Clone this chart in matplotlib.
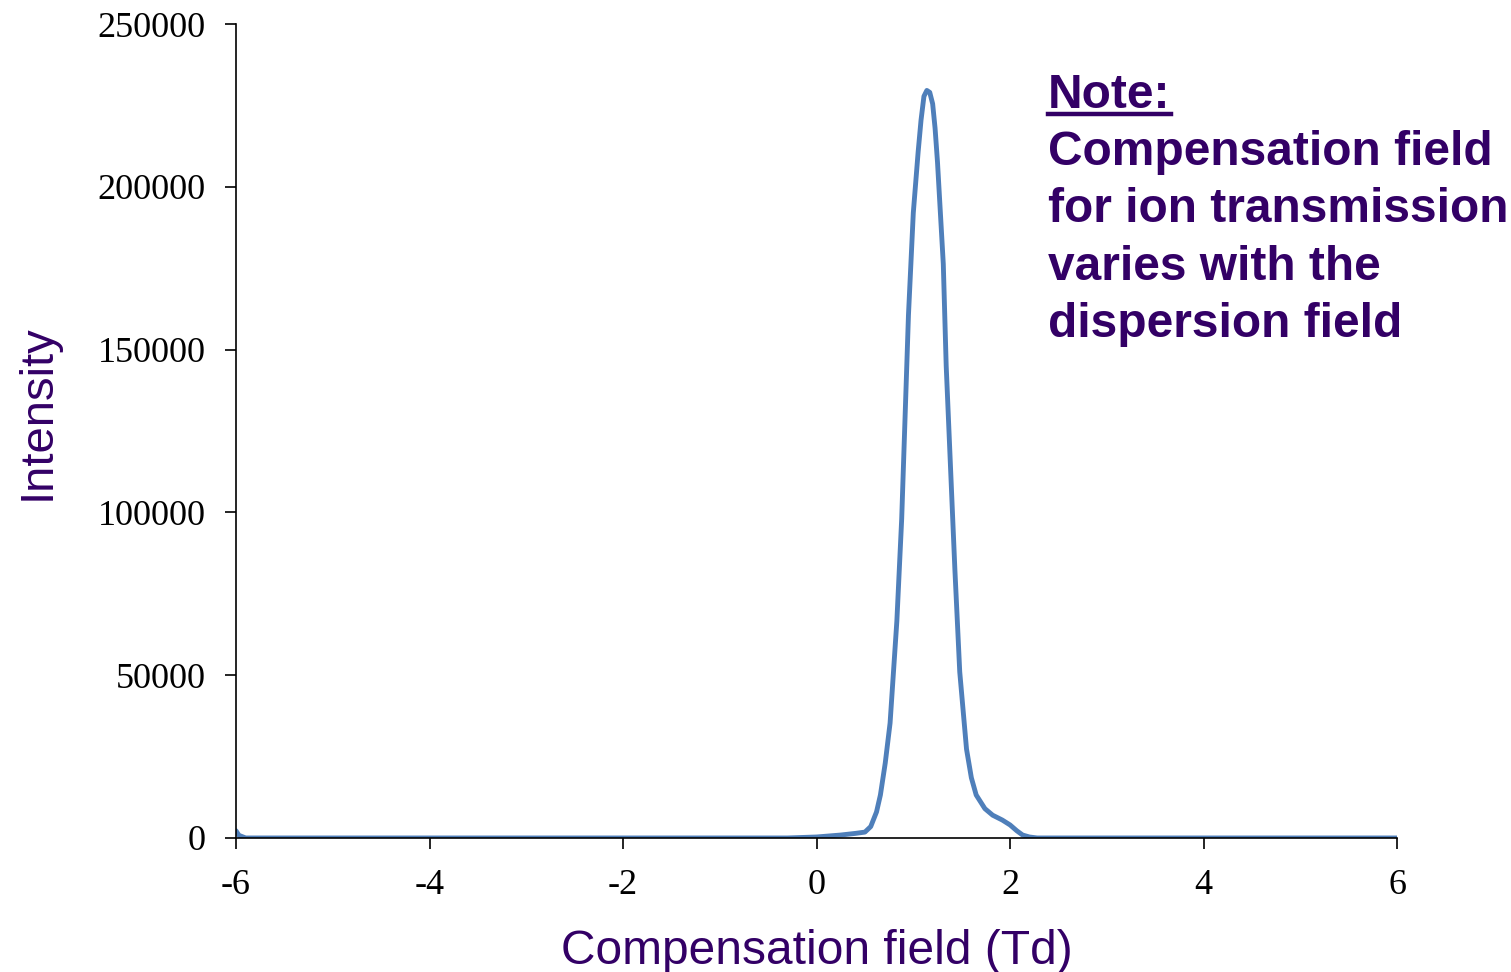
import matplotlib
matplotlib.use("Agg")
import matplotlib.pyplot as plt
from matplotlib.lines import Line2D

# curve
campo = [-6.0, -5.97, -5.9, -5.0, -3.0, -1.0, -0.3, 0.0, 0.25, 0.4, 0.5, 0.56, 0.62,
         0.66, 0.71, 0.76, 0.83, 0.88, 0.915, 0.95, 1.0, 1.05, 1.08, 1.11, 1.14,
         1.17, 1.20, 1.225, 1.25, 1.31, 1.34, 1.385, 1.43, 1.48, 1.55, 1.60, 1.65,
         1.74, 1.82, 1.92, 2.0, 2.07, 2.13, 2.2, 2.28, 2.5, 4.0, 6.0]
intensidade = [2200, 800, 0, 0, 0, 0, 0, 300, 900, 1400, 1800, 3500, 8000,
               13200, 23000, 35300, 66600, 98000, 129300, 160600, 192000, 210700,
               220500, 227800, 229600, 229000, 225500, 218000, 207600, 176300,
               145000, 113600, 82300, 51000, 27300, 18500, 13200, 9000, 7000, 5500,
               4000, 2200, 900, 300, 0, 0, 0, 0]

xticks = [-6, -4, -2, 0, 2, 4, 6]
yticks = [0, 50000, 100000, 150000, 200000, 250000]

roxo = "#330066"
plt.rcParams['axes.unicode_minus'] = False

fig = plt.figure(figsize=(15.11, 9.72), dpi=100)
ax = fig.add_axes([0.1562, 0.1379, 0.7684, 0.8374])

ax.plot(campo, intensidade, color="#4f7fba", lw=3.5, solid_capstyle="round",
        solid_joinstyle="round")

ax.set_xlim(-6, 6)
ax.set_ylim(0, 250000)
ax.set_xticks(xticks)
ax.set_yticks(yticks)
ax.set_xticklabels([str(t) for t in xticks], family="Liberation Serif", fontsize=26)
ax.set_yticklabels([str(t) for t in yticks], family="Liberation Serif", fontsize=26)
ax.tick_params(axis="both", direction="out", length=8, width=1.2, color="black")
ax.tick_params(axis="x", pad=14)
ax.tick_params(axis="y", pad=14)
for lado in ["top", "right"]:
    ax.spines[lado].set_visible(False)
for lado in ["left", "bottom"]:
    ax.spines[lado].set_linewidth(1.2)
ax.patch.set_alpha(0)

ax.set_xlabel("Compensation field (Td)", family="Liberation Sans", fontsize=34.5,
              color=roxo, labelpad=20)
ax.set_ylabel("Intensity", family="Liberation Sans", fontsize=34, color=roxo)
ax.yaxis.set_label_coords(-0.1516, 0.523)

# nota a direita
x0 = 1048 / 1511
nota = fig.text(x0, 1 - 108 / 972, "Note:", family="Liberation Sans", weight="bold",
                fontsize=34.5, color=roxo, va="baseline", ha="left")
linhas = ["Compensation field", "for ion transmission", "varies with the",
          "dispersion field"]
bases = [165, 222, 280, 337]
for txt, b in zip(linhas, bases):
    fig.text(x0, 1 - b / 972, txt, family="Liberation Sans", weight="bold",
             fontsize=34.5, color=roxo, va="baseline", ha="left")

fig.canvas.draw()
bb = nota.get_window_extent()
W, H = fig.get_size_inches() * fig.dpi
yl = 1 - 114 / 972
fig.add_artist(Line2D([bb.x0 / W, bb.x1 / W], [yl, yl], color=roxo, lw=3.2,
                      transform=fig.transFigure))

fig.savefig("out.png", dpi=100, facecolor="white")
